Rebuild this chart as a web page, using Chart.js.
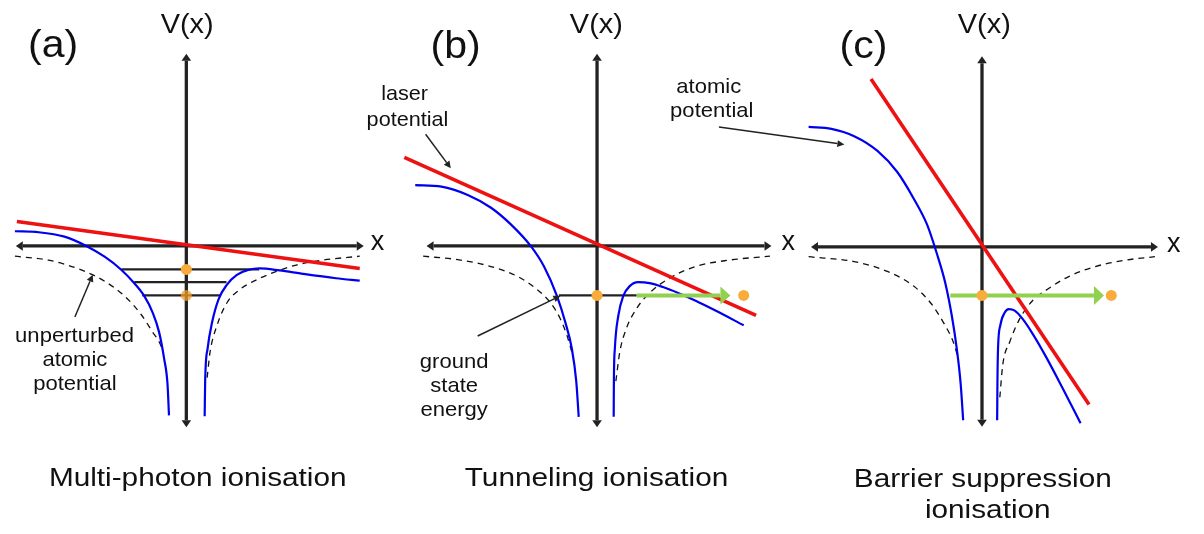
<!DOCTYPE html>
<html>
<head>
<meta charset="utf-8">
<title>Ionisation regimes</title>
<script src="https://cdn.jsdelivr.net/npm/chart.js@4.4.1/dist/chart.umd.min.js"></script>
<style>
  html, body { margin: 0; padding: 0; background: #fff; }
  #wrap { position: relative; width: 1204px; height: 534px; }
  #wrap canvas { position: absolute; left: 0; top: 0; }
</style>
</head>
<body>
<div id="wrap">
  <canvas id="panel-a" width="1204" height="534"></canvas>
  <canvas id="panel-b" width="1204" height="534"></canvas>
  <canvas id="panel-c" width="1204" height="534"></canvas>
</div>
<script>
// Potentials in arbitrary units, origin at each panel's axis crossing.
// (x, V) pairs.

// --- (a) multi-photon ---
const aAtomicLeft = [[-17.3, 1.5], [-14.9, 1.4], [-12.3, 0.95], [-10.1, 0], [-8.25, -1.1], [-6.6, -2.4], [-5.25, -3.8], [-4.25, -5.1], [-3.4, -6.8], [-2.75, -8.8], [-2.25, -11.45], [-1.9, -14.1], [-1.75, -17.3]];
const aAtomicRight = [[1.85, -17.4], [1.9, -13.8], [2.15, -10.45], [2.6, -7.8], [3.25, -5.45], [4.1, -3.95], [5.1, -2.95], [6.25, -2.45], [7.4, -2.3], [9.4, -2.5], [11.75, -2.85], [15.1, -3.3], [17.5, -3.55]];
const aBareLeft = [[-17.3, -1.05], [-13.9, -1.45], [-10.6, -2.45], [-8.25, -3.6], [-6.25, -5.1], [-4.6, -6.95], [-3.4, -8.8], [-2.6, -10.1], [-2.45, -10.6]];
const aBareRight = [[2.1, -13.45], [2.4, -10.8], [3.1, -8.1], [4.1, -5.8], [5.4, -4.45], [7.1, -3.45], [9.1, -2.6], [11.1, -1.95], [13.75, -1.45], [17.5, -1.05]];
const aLaser = [[-17.1, 2.5], [17.5, -2.3]];
const aLevelE = [-2.4, -3.7, -5.05];
const aLevelFrom = [-6.55, -5.25, -4.45];
const aLevelTo = [7.35, 4.05, 3.45];
const aElectron = [[0, -2.4]];
const aElectronFaint = [[0, -5.05]];

// --- (b) tunneling ---
const bAtomicLeft = [[-18.35, 6.2], [-15.7, 6.05], [-13.05, 5.2], [-10.7, 3.9], [-8.7, 2.2], [-6.7, 0], [-5.35, -2.1], [-4.05, -5.1], [-3.2, -7.8], [-2.55, -10.45], [-2.1, -13.8], [-1.85, -17.45]];
const bAtomicRight = [[1.68, -17.45], [1.7, -13.8], [1.8, -10.45], [2.15, -7.1], [2.65, -5.1], [3.3, -4.1], [4.15, -3.7], [5.3, -3.8], [6.65, -4.2], [8.3, -4.85], [9.95, -5.6], [11.95, -6.6], [14.8, -8.1]];
const bBareLeft = [[-17.55, -1.05], [-14.05, -1.4], [-10.7, -2.1], [-8.05, -3.1], [-6.05, -4.45], [-4.7, -5.8], [-3.7, -7.45], [-3.05, -9.1], [-2.55, -10.8]];
const bBareRight = [[1.9, -13.8], [2.3, -10.8], [2.95, -8.45], [3.95, -6.45], [5.3, -4.8], [7.3, -3.3], [9.95, -2.1], [13.3, -1.45], [17.45, -1.05]];
const bLaser = [[-19.45, 9.05], [16.05, -7.1]];
const bGround = [[-3.85, -5.05], [4.0, -5.05]];
const bEscape = [[4.0, -5.05], [12.45, -5.05]];
const bElectron = [[0, -5.05], [14.8, -5.05]];

// --- (c) barrier suppression ---
const cAtomicLeft = [[-17.5, 12.25], [-15.2, 12.05], [-12.9, 11.3], [-10.55, 9.8], [-8.55, 7.65], [-6.9, 4.95], [-5.55, 2.3], [-4.55, -0.7], [-3.7, -3.7], [-3.05, -7.0], [-2.55, -10.35], [-2.15, -14.0], [-1.9, -17.7]];
const cAtomicRight = [[1.53, -17.7], [1.56, -13.7], [1.62, -10.35], [1.85, -8.0], [2.3, -6.7], [2.7, -6.35], [3.3, -6.5], [4.1, -7.35], [5.1, -8.85], [6.45, -11.2], [8.1, -14.35], [9.95, -18.0]];
const cBareLeft = [[-17.5, -1.0], [-12.9, -1.5], [-9.55, -2.5], [-6.9, -4.0], [-5.2, -5.7], [-3.9, -7.7], [-2.9, -9.7], [-2.4, -11.35]];
const cBareRight = [[1.8, -15.35], [2.1, -12.0], [2.8, -9.7], [3.8, -7.35], [5.1, -5.5], [6.8, -4.2], [8.8, -3.0], [11.45, -2.0], [14.45, -1.35], [17.45, -1.0]];
const cLaser = [[-11.2, 17.15], [10.8, -16.1]];
const cEscape = [[-3.2, -4.95], [11.3, -4.95]];
const cElectron = [[0, -4.95], [13.05, -4.95]];

const PX = 10; // pixels per unit, same in every panel
const RED = '#ee1111', BLUE = '#0000ee', INK = '#222', GREEN = '#92d050', ORANGE = '#f9ac3b';
const FONT = '"Liberation Sans", Arial, Helvetica, sans-serif';

const xy = (pts) => pts.map(([x, y]) => ({ x, y }));

function curve(pts, color, width, extra) {
  return Object.assign({
    data: xy(pts), showLine: true, borderColor: color, borderWidth: width,
    pointRadius: 0, fill: false, cubicInterpolationMode: 'monotone', clip: false
  }, extra || {});
}
const straight = (pts, color, width, extra) =>
  curve(pts, color, width, Object.assign({ cubicInterpolationMode: 'default', tension: 0 }, extra || {}));
const dashed = (pts) => curve(pts, '#111', 1.3, { borderDash: [6, 5] });
const dots = (pts, color) => ({
  data: xy(pts), showLine: false, pointRadius: 5.5, pointBackgroundColor: color,
  pointBorderWidth: 0, clip: false
});
// axis line with arrow heads at both ends (heads sit past the end points)
const axis = (pts) => straight(pts, INK, 3.3, { head: [7, 4.8], headStart: true });
const pointer = (pts) => straight(pts, INK, 1.5, { head: [7, 3.5] });

function drawHead(ctx, from, to, len, half) {
  const a = Math.atan2(to.y - from.y, to.x - from.x);
  ctx.save();
  ctx.translate(to.x, to.y);
  ctx.rotate(a);
  ctx.beginPath();
  ctx.moveTo(len, 0);
  ctx.lineTo(0, -half);
  ctx.lineTo(0, half);
  ctx.closePath();
  ctx.fill();
  ctx.restore();
}

const arrowHeads = {
  id: 'arrowHeads',
  afterDatasetsDraw(chart) {
    const ctx = chart.ctx;
    chart.data.datasets.forEach((ds, i) => {
      if (!ds.head) return;
      const pts = chart.getDatasetMeta(i).data;
      const n = pts.length;
      ctx.fillStyle = ds.borderColor;
      drawHead(ctx, pts[n - 2], pts[n - 1], ds.head[0], ds.head[1]);
      if (ds.headStart) drawHead(ctx, pts[1], pts[0], ds.head[0], ds.head[1]);
    });
  }
};

function textPlugin(notes) {
  return {
    id: 'panelText',
    afterDraw(chart) {
      const ctx = chart.ctx, sx = chart.scales.x, sy = chart.scales.y;
      notes.forEach((n) => {
        ctx.save();
        ctx.translate(sx.getPixelForValue(n.x), sy.getPixelForValue(n.y));
        ctx.scale(n.sx || 1, 1);
        ctx.font = n.size + 'px ' + FONT;
        ctx.textAlign = 'center';
        ctx.textBaseline = 'alphabetic';
        ctx.fillStyle = '#111';
        ctx.fillText(n.text, 0, 0);
        ctx.restore();
      });
    }
  };
}

function buildPanel(id, origin, datasets, notes) {
  return new Chart(document.getElementById(id), {
    type: 'scatter',
    data: { datasets },
    options: {
      responsive: false,
      animation: false,
      events: [],
      layout: { padding: 0 },
      plugins: { legend: { display: false }, tooltip: { enabled: false } },
      scales: {
        x: { display: false, min: -origin.x / PX, max: (1204 - origin.x) / PX },
        y: { display: false, min: -(534 - origin.y) / PX, max: origin.y / PX }
      }
    },
    plugins: [arrowHeads, textPlugin(notes)]
  });
}

// first dataset is drawn on top
buildPanel('panel-a', { x: 182.5, y: 245.5 }, [
  dots(aElectron, ORANGE),
  dots(aElectronFaint, 'rgba(240,160,45,0.75)'),
  straight(aLaser, RED, 3.6),
  curve(aAtomicLeft, BLUE, 2.2),
  curve(aAtomicRight, BLUE, 2.2),
  ...aLevelE.map((e, i) => straight([[aLevelFrom[i], e], [aLevelTo[i], e]], INK, 2.2)),
  pointer([[-11.25, -7.25], [-9.72, -3.6]]),
  axis([[-16.5, 0], [17.2, 0]]),
  axis([[0, -17.8], [0, 18.9]]),
  dashed(aBareLeft),
  dashed(aBareRight)
], [
  { text: '(a)', x: -13.45, y: 19.3, size: 38, sx: 1.08 },
  { text: 'V(x)', x: 0.08, y: 21.72, size: 27, sx: 1.07 },
  { text: 'x', x: 19.3, y: -0.45, size: 27 },
  { text: 'Multi-photon ionisation', x: 1.15, y: -24.5, size: 25, sx: 1.19 },
  { text: 'unperturbed', x: -11.28, y: -9.78, size: 21, sx: 1.05 },
  { text: 'atomic', x: -11.25, y: -12.22, size: 21, sx: 1.05 },
  { text: 'potential', x: -11.25, y: -14.69, size: 21, sx: 1.05 }
]);

buildPanel('panel-b', { x: 597, y: 245.5 }, [
  dots(bElectron, ORANGE),
  straight(bEscape, GREEN, 4, { head: [10, 9] }),
  straight(bLaser, RED, 3.6),
  curve(bAtomicLeft, BLUE, 2.2),
  curve(bAtomicRight, BLUE, 2.2),
  straight(bGround, INK, 2.2),
  pointer([[-17.3, 11.4], [-15.18, 8.51]]),
  pointer([[-12.05, -9.2], [-4.33, -5.41]]),
  pointer([[12.3, 12.15], [24.26, 10.45]]),
  axis([[-16.5, 0], [16.9, 0]]),
  axis([[0, -17.8], [0, 18.9]]),
  dashed(bBareLeft),
  dashed(bBareRight)
], [
  { text: '(b)', x: -14.28, y: 19.2, size: 38, sx: 1.08 },
  { text: 'V(x)', x: -0.07, y: 21.72, size: 27, sx: 1.07 },
  { text: 'x', x: 19.3, y: -0.45, size: 27 },
  { text: 'Tunneling ionisation', x: -0.05, y: -24.55, size: 25, sx: 1.19 },
  { text: 'laser', x: -19.42, y: 14.95, size: 21, sx: 1.03 },
  { text: 'potential', x: -19.13, y: 12.28, size: 21, sx: 1.03 },
  { text: 'ground', x: -14.42, y: -12.45, size: 21, sx: 1.05 },
  { text: 'state', x: -14.42, y: -14.95, size: 21, sx: 1.05 },
  { text: 'energy', x: -14.42, y: -17.38, size: 21, sx: 1.05 },
  { text: 'atomic', x: 11.27, y: 15.62, size: 21, sx: 1.05 },
  { text: 'potential', x: 11.58, y: 13.12, size: 21, sx: 1.05 }
]);

buildPanel('panel-c', { x: 985.5, y: 246.5 }, [
  dots(cElectron, ORANGE),
  straight(cEscape, GREEN, 4, { head: [10, 9.5] }),
  straight(cLaser, RED, 3.6),
  curve(cAtomicLeft, BLUE, 2.2),
  curve(cAtomicRight, BLUE, 2.2),
  axis([[-16.55, 0], [17.05, 0]]),
  axis([[0, -17.65], [0, 18.75]]),
  dashed(cBareLeft),
  dashed(cBareRight)
], [
  { text: '(c)', x: -11.97, y: 19.3, size: 38, sx: 1.08 },
  { text: 'V(x)', x: 0.23, y: 21.82, size: 27, sx: 1.07 },
  { text: 'x', x: 19.35, y: -0.52, size: 27 },
  { text: 'Barrier suppression', x: 0.08, y: -24.52, size: 25, sx: 1.19 },
  { text: 'ionisation', x: 0.58, y: -27.68, size: 25, sx: 1.19 }
]);
</script>
</body>
</html>
